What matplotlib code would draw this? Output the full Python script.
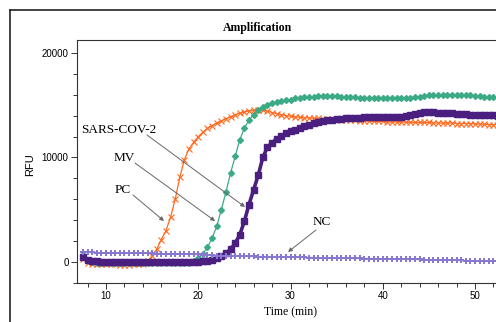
import numpy as np
import matplotlib
matplotlib.use("Agg")
import matplotlib.pyplot as plt
from matplotlib.lines import Line2D
from matplotlib.ticker import MultipleLocator, FixedLocator

# Sampling grid (minutes), one reading every 30 s
time_min = np.arange(7.5, 53.01, 0.5)

pc = [250, -50, -150, -200, -200, -220, -230, -230, -240, -240,
      -240, -230, -220, -150, 100, 550, 1250, 2150, 3000, 4300,
      6000, 8100, 9800, 10850, 11450, 12000, 12400, 12800, 13050, 13300,
      13500, 13700, 13900, 14100, 14250, 14350, 14450, 14500, 14550, 14550,
      14450, 14300, 14200, 14100, 14000, 13950, 13900, 13850, 13800, 13800,
      13750, 13750, 13700, 13700, 13650, 13650, 13600, 13600, 13550, 13550,
      13500, 13500, 13500, 13450, 13450, 13450, 13400, 13400, 13400, 13400,
      13400, 13350, 13350, 13350, 13350, 13350, 13300, 13300, 13300, 13300,
      13300, 13250, 13250, 13250, 13250, 13200, 13200, 13200, 13150, 13150,
      13150, 13100]

mv = [650, 150, 0, -50, -50, -50, -50, -50, -50, -50,
      -50, -50, -50, -50, -50, -50, -50, -50, -50, -50,
      -50, -50, -50, -50, 100, 350, 800, 1400, 2300, 3400,
      5000, 6700, 8500, 10100, 11700, 12800, 13600, 14100, 14550, 14850,
      15050, 15200, 15300, 15400, 15500, 15550, 15650, 15700, 15750, 15800,
      15800, 15850, 15850, 15850, 15850, 15850, 15800, 15800, 15750, 15750,
      15700, 15700, 15700, 15700, 15700, 15700, 15650, 15650, 15650, 15650,
      15650, 15700, 15750, 15800, 15900, 15950, 16000, 16000, 16000, 16000,
      16000, 16000, 16000, 15980, 15950, 15900, 15850, 15800, 15750, 15750,
      15700, 15700]

sars_cov_2 = [450, 150, 80, 50, 30, 20, 10, 10, 0, 0,
              0, 0, 0, 0, 0, 0, 0, 0, 0, 0,
              0, 0, 0, 0, 0, 20, 50, 100, 200, 350,
              550, 850, 1200, 1800, 2600, 3900, 5500, 6900, 8300, 10000,
              11000, 11400, 11800, 12050, 12300, 12500, 12650, 12850, 13000, 13150,
              13300, 13400, 13500, 13550, 13600, 13650, 13700, 13750, 13750, 13800,
              13800, 13850, 13850, 13850, 13900, 13900, 13900, 13900, 13900, 13900,
              13950, 14050, 14200, 14300, 14350, 14350, 14350, 14300, 14300, 14250,
              14250, 14200, 14200, 14150, 14100, 14100, 14100, 14050, 14050, 14050,
              14000, 14000]

nc = [950, 930, 910, 900, 890, 880, 880, 870, 860, 860,
      850, 850, 840, 830, 830, 820, 810, 800, 800, 790,
      780, 770, 760, 750, 740, 720, 700, 670, 640, 610,
      590, 580, 570, 560, 550, 540, 530, 530, 520, 520,
      510, 510, 510, 500, 500, 490, 470, 450, 440, 430,
      420, 410, 400, 390, 380, 370, 360, 350, 350, 340,
      340, 330, 330, 320, 310, 300, 290, 280, 270, 260,
      250, 250, 240, 240, 230, 220, 210, 200, 190, 180,
      170, 160, 150, 140, 130, 120, 110, 110, 100, 100,
      100, 100]

x_major = [10, 20, 30, 40, 50]
y_major = [0, 10000, 20000]

SERIF = "Liberation Serif"
SANS = "Liberation Sans"

fig = plt.figure(figsize=(4.96, 3.22), dpi=100)
fig.patch.set_facecolor("white")

W, H = 496.0, 322.0
left_px, right_px, top_px, bottom_px = 77, 506, 40, 283
ax = fig.add_axes([left_px / W, 1 - bottom_px / H,
                   (right_px - left_px) / W, (bottom_px - top_px) / H])

ax.plot(time_min, pc, color="#FF6A1F", lw=0.9, marker="x", ms=3.8, mew=0.8, zorder=3)
ax.plot(time_min, mv, color="#3DAA86", lw=0.9, marker="D", ms=3.0, zorder=3)
ax.plot(time_min, sars_cov_2, color="#4A1F80", lw=2.6, marker="s", ms=4.0, zorder=4)
ax.plot(time_min, nc, color="#8878CF", lw=1.0, marker="P", ms=4.0, mew=0, zorder=5)

ax.set_xlim(6.856, 53.36)
ax.set_ylim(-2010, 21244)

ax.xaxis.set_major_locator(FixedLocator(x_major))
ax.xaxis.set_minor_locator(MultipleLocator(2))
ax.yaxis.set_major_locator(FixedLocator(y_major))
ax.yaxis.set_minor_locator(MultipleLocator(2000))
ax.set_xticklabels([str(v) for v in x_major], fontfamily=SANS, fontsize=7)
ax.set_yticklabels([str(v) for v in y_major], fontfamily=SANS, fontsize=7)
ax.tick_params(which="major", direction="out", length=4, width=0.7, pad=2, color="#333333")
ax.tick_params(which="minor", direction="out", length=3, width=0.7, color="#333333")
for side in ("left", "bottom", "top"):
    ax.spines[side].set_linewidth(0.8)
    ax.spines[side].set_color("#333333")
ax.spines["right"].set_visible(False)

fig.text(30 / W, 1 - 165 / H, "RFU", rotation=90, ha="center", va="center",
         fontfamily=SANS, fontsize=8)
fig.text(290 / W, 1 - 312 / H, "Time (min)", ha="center", va="center",
         fontfamily=SERIF, fontsize=8.5)
fig.text(258 / W, 1 - 28 / H, "Amplification", ha="center", va="center",
         fontfamily=SERIF, fontsize=8.5, fontweight="bold")

# outer frame of the instrument window
fig.add_artist(Line2D([9.5 / W, 9.5 / W], [0, 1 - 10 / H], transform=fig.transFigure,
                      color="#222222", lw=1.2))
fig.add_artist(Line2D([9.5 / W, 1], [1 - 10 / H, 1 - 10 / H], transform=fig.transFigure,
                      color="#222222", lw=1.2))

# sample labels with pointers
labels = [
    ("SARS-COV-2", (11.41, 12632), (14.44, 12153), (25.07, 5263)),
    ("MV", (11.95, 9952), (13.14, 9474), (21.82, 3923)),
    ("PC", (11.84, 6890), (12.93, 6411), (16.29, 3923)),
    ("NC", (33.41, 3828), (32.76, 3062), (29.73, 957)),
]
for text, pos, start, end in labels:
    ax.text(pos[0], pos[1], text, ha="center", va="center",
            fontfamily=SERIF, fontsize=9.5, zorder=6)
    ax.annotate("", xy=end, xytext=start,
                arrowprops=dict(arrowstyle="-|>", color="#666666", lw=0.7,
                                mutation_scale=6, shrinkA=0, shrinkB=0),
                zorder=6)

fig.savefig("out.png", dpi=100)
